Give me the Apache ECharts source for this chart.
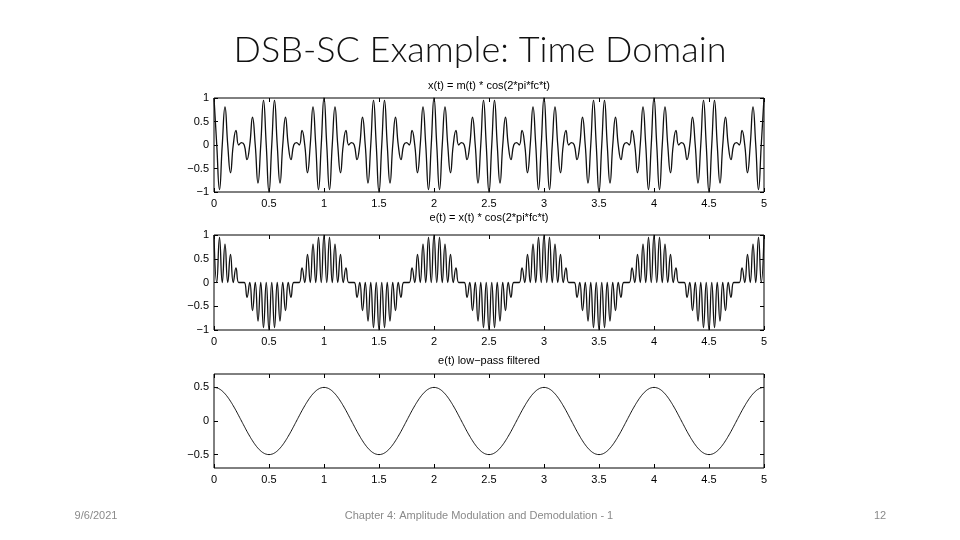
<!DOCTYPE html>
<html>
<head>
<meta charset="utf-8">
<title>DSB-SC Example: Time Domain</title>
<script src="https://cdn.jsdelivr.net/npm/echarts@6/dist/echarts.min.js"></script>
<style>
  html, body { margin: 0; padding: 0; background: #fff; }
  #chart { width: 960px; height: 540px; }
</style>
</head>
<body>
<div id="chart"></div>
<script>
// sample times (s), 0.025 s step
const tGrid = [
  0,0.025,0.05,0.075,0.1,0.125,0.15,0.175,0.2,0.225,0.25,0.275,0.3,0.325,0.35,0.375,0.4,0.425,0.45,0.475,
  0.5,0.525,0.55,0.575,0.6,0.625,0.65,0.675,0.7,0.725,0.75,0.775,0.8,0.825,0.85,0.875,0.9,0.925,0.95,0.975,
  1,1.025,1.05,1.075,1.1,1.125,1.15,1.175,1.2,1.225,1.25,1.275,1.3,1.325,1.35,1.375,1.4,1.425,1.45,1.475,
  1.5,1.525,1.55,1.575,1.6,1.625,1.65,1.675,1.7,1.725,1.75,1.775,1.8,1.825,1.85,1.875,1.9,1.925,1.95,1.975,
  2,2.025,2.05,2.075,2.1,2.125,2.15,2.175,2.2,2.225,2.25,2.275,2.3,2.325,2.35,2.375,2.4,2.425,2.45,2.475,
  2.5,2.525,2.55,2.575,2.6,2.625,2.65,2.675,2.7,2.725,2.75,2.775,2.8,2.825,2.85,2.875,2.9,2.925,2.95,2.975,
  3,3.025,3.05,3.075,3.1,3.125,3.15,3.175,3.2,3.225,3.25,3.275,3.3,3.325,3.35,3.375,3.4,3.425,3.45,3.475,
  3.5,3.525,3.55,3.575,3.6,3.625,3.65,3.675,3.7,3.725,3.75,3.775,3.8,3.825,3.85,3.875,3.9,3.925,3.95,3.975,
  4,4.025,4.05,4.075,4.1,4.125,4.15,4.175,4.2,4.225,4.25,4.275,4.3,4.325,4.35,4.375,4.4,4.425,4.45,4.475,
  4.5,4.525,4.55,4.575,4.6,4.625,4.65,4.675,4.7,4.725,4.75,4.775,4.8,4.825,4.85,4.875,4.9,4.925,4.95,4.975,
  5
]

// x(t) = m(t) * cos(2*pi*fc*t)
const xValues = [
  1,0,-0.95,0,0.81,0,-0.59,0,0.31,0,0.05,0,-0.31,0,0.59,0,-0.81,0,0.95,0,
  -1,0,0.95,0,-0.81,0,0.59,0,-0.31,0,0.05,0,0.31,0,-0.59,0,0.81,0,-0.95,0,
  1,0,-0.95,0,0.81,0,-0.59,0,0.31,0,0.05,0,-0.31,0,0.59,0,-0.81,0,0.95,0,
  -1,0,0.95,0,-0.81,0,0.59,0,-0.31,0,0.05,0,0.31,0,-0.59,0,0.81,0,-0.95,0,
  1,0,-0.95,0,0.81,0,-0.59,0,0.31,0,0.05,0,-0.31,0,0.59,0,-0.81,0,0.95,0,
  -1,0,0.95,0,-0.81,0,0.59,0,-0.31,0,0.05,0,0.31,0,-0.59,0,0.81,0,-0.95,0,
  1,0,-0.95,0,0.81,0,-0.59,0,0.31,0,0.05,0,-0.31,0,0.59,0,-0.81,0,0.95,0,
  -1,0,0.95,0,-0.81,0,0.59,0,-0.31,0,0.05,0,0.31,0,-0.59,0,0.81,0,-0.95,0,
  1,0,-0.95,0,0.81,0,-0.59,0,0.31,0,0.05,0,-0.31,0,0.59,0,-0.81,0,0.95,0,
  -1,0,0.95,0,-0.81,0,0.59,0,-0.31,0,0.05,0,0.31,0,-0.59,0,0.81,0,-0.95,0,
  1
]

// e(t) = x(t) * cos(2*pi*fc*t)
const eValues = [
  1,0,0.95,0,0.81,0,0.59,0,0.31,0,0,0,-0.31,0,-0.59,0,-0.81,0,-0.95,0,
  -1,0,-0.95,0,-0.81,0,-0.59,0,-0.31,0,0,0,0.31,0,0.59,0,0.81,0,0.95,0,
  1,0,0.95,0,0.81,0,0.59,0,0.31,0,0,0,-0.31,0,-0.59,0,-0.81,0,-0.95,0,
  -1,0,-0.95,0,-0.81,0,-0.59,0,-0.31,0,0,0,0.31,0,0.59,0,0.81,0,0.95,0,
  1,0,0.95,0,0.81,0,0.59,0,0.31,0,0,0,-0.31,0,-0.59,0,-0.81,0,-0.95,0,
  -1,0,-0.95,0,-0.81,0,-0.59,0,-0.31,0,0,0,0.31,0,0.59,0,0.81,0,0.95,0,
  1,0,0.95,0,0.81,0,0.59,0,0.31,0,0,0,-0.31,0,-0.59,0,-0.81,0,-0.95,0,
  -1,0,-0.95,0,-0.81,0,-0.59,0,-0.31,0,0,0,0.31,0,0.59,0,0.81,0,0.95,0,
  1,0,0.95,0,0.81,0,0.59,0,0.31,0,0,0,-0.31,0,-0.59,0,-0.81,0,-0.95,0,
  -1,0,-0.95,0,-0.81,0,-0.59,0,-0.31,0,0,0,0.31,0,0.59,0,0.81,0,0.95,0,
  1
]

// e(t) low-pass filtered
const lpValues = [
  0.5,0.494,0.476,0.446,0.405,0.354,0.294,0.227,0.155,0.078,0,-0.078,-0.155,-0.227,-0.294,-0.354,-0.405,-0.446,-0.476,-0.494,
  -0.5,-0.494,-0.476,-0.446,-0.405,-0.354,-0.294,-0.227,-0.155,-0.078,0,0.078,0.155,0.227,0.294,0.354,0.405,0.446,0.476,0.494,
  0.5,0.494,0.476,0.446,0.405,0.354,0.294,0.227,0.155,0.078,0,-0.078,-0.155,-0.227,-0.294,-0.354,-0.405,-0.446,-0.476,-0.494,
  -0.5,-0.494,-0.476,-0.446,-0.405,-0.354,-0.294,-0.227,-0.155,-0.078,0,0.078,0.155,0.227,0.294,0.354,0.405,0.446,0.476,0.494,
  0.5,0.494,0.476,0.446,0.405,0.354,0.294,0.227,0.155,0.078,0,-0.078,-0.155,-0.227,-0.294,-0.354,-0.405,-0.446,-0.476,-0.494,
  -0.5,-0.494,-0.476,-0.446,-0.405,-0.354,-0.294,-0.227,-0.155,-0.078,0,0.078,0.155,0.227,0.294,0.354,0.405,0.446,0.476,0.494,
  0.5,0.494,0.476,0.446,0.405,0.354,0.294,0.227,0.155,0.078,0,-0.078,-0.155,-0.227,-0.294,-0.354,-0.405,-0.446,-0.476,-0.494,
  -0.5,-0.494,-0.476,-0.446,-0.405,-0.354,-0.294,-0.227,-0.155,-0.078,0,0.078,0.155,0.227,0.294,0.354,0.405,0.446,0.476,0.494,
  0.5,0.494,0.476,0.446,0.405,0.354,0.294,0.227,0.155,0.078,0,-0.078,-0.155,-0.227,-0.294,-0.354,-0.405,-0.446,-0.476,-0.494,
  -0.5,-0.494,-0.476,-0.446,-0.405,-0.354,-0.294,-0.227,-0.155,-0.078,0,0.078,0.155,0.227,0.294,0.354,0.405,0.446,0.476,0.494,
  0.5
]

const lpYTicks = [-0.5, 0, 0.5]

const plotTitles = [
  'x(t) = m(t) * cos(2*pi*fc*t)',
  'e(t) = x(t) * cos(2*pi*fc*t)',
  'e(t) low\u2212pass filtered'
]

const chart = echarts.init(document.getElementById('chart'))

const FONT = 'Liberation Sans, Arial, sans-serif'
const toPairs = vals => tGrid.map((t, i) => [t, vals[i]])
const fmtY = v => (v < 0 ? '\u2212' + Math.abs(v) : String(v))

// grid boxes: [top, height]
const boxes = [[98, 94], [235, 95], [374, 94]]

const grids = boxes.map(([top, height]) => ({
  left: 214,
  right: 196,
  top: top,
  height: height,
  show: true,
  borderColor: '#000',
  borderWidth: 1,
  backgroundColor: 'transparent'
}))

const tickStyle = (custom) => ({
  inside: true,
  length: 4,
  lineStyle: { color: '#000' },
  customValues: custom
})

const xAxes = []
const yAxes = []
boxes.forEach((b, i) => {
  // bottom axis with labels
  xAxes.push({
    type: 'value', gridIndex: i, position: 'bottom', min: 0, max: 5, interval: 0.5,
    axisLine: { show: false, onZero: false },
    axisTick: tickStyle(),
    splitLine: { show: false },
    axisLabel: { color: '#000', fontFamily: FONT, fontSize: 11, margin: 6 }
  })
  // top axis, ticks only
  xAxes.push({
    type: 'value', gridIndex: i, position: 'top', min: 0, max: 5, interval: 0.5,
    axisLine: { show: false, onZero: false },
    axisTick: tickStyle(),
    splitLine: { show: false },
    axisLabel: { show: false }
  })
  const isLp = i === 2
  const custom = isLp ? lpYTicks : undefined
  const yBase = isLp
    ? { min: -0.7, max: 0.7 }
    : { min: -1, max: 1, interval: 0.5 }
  yAxes.push(Object.assign({
    type: 'value', gridIndex: i, position: 'left',
    axisLine: { show: false, onZero: false },
    axisTick: tickStyle(custom),
    splitLine: { show: false },
    axisLabel: { color: '#000', fontFamily: FONT, fontSize: 11, margin: 5, formatter: fmtY, customValues: custom }
  }, yBase))
  yAxes.push(Object.assign({
    type: 'value', gridIndex: i, position: 'right',
    axisLine: { show: false, onZero: false },
    axisTick: tickStyle(custom),
    splitLine: { show: false },
    axisLabel: { show: false }
  }, yBase))
})

const lineSeries = (vals, i, width) => ({
  type: 'line',
  xAxisIndex: i * 2,
  yAxisIndex: i * 2,
  data: toPairs(vals),
  smooth: true,
  showSymbol: false,
  silent: true,
  lineStyle: { color: '#111', width: width }
})

const titleTops = [80, 212, 355]

const option = {
  animation: false,
  backgroundColor: '#fff',
  grid: grids,
  xAxis: xAxes,
  yAxis: yAxes,
  series: [
    lineSeries(xValues, 0, 1.3),
    lineSeries(eValues, 1, 1.3),
    lineSeries(lpValues, 2, 1)
  ],
  graphic: [
    {
      type: 'text', x: 480, y: 32,
      style: { text: 'DSB-SC Example: Time Domain', fill: '#111', font: '300 36px Lato, ' + FONT, textAlign: 'center' }
    },
    ...plotTitles.map((txt, i) => ({
      type: 'text', x: 489, y: titleTops[i],
      style: { text: txt, fill: '#000', font: '11px ' + FONT, textAlign: 'center' }
    })),
    {
      type: 'text', x: 96, y: 510,
      style: { text: '9/6/2021', fill: '#8a8a8a', font: '11px ' + FONT, textAlign: 'center' }
    },
    {
      type: 'text', x: 479, y: 510,
      style: { text: 'Chapter 4: Amplitude Modulation and Demodulation - 1', fill: '#8a8a8a', font: '11px ' + FONT, textAlign: 'center' }
    },
    {
      type: 'text', x: 880, y: 510,
      style: { text: '12', fill: '#8a8a8a', font: '11px ' + FONT, textAlign: 'center' }
    }
  ]
}

chart.setOption(option)
</script>
</body>
</html>
